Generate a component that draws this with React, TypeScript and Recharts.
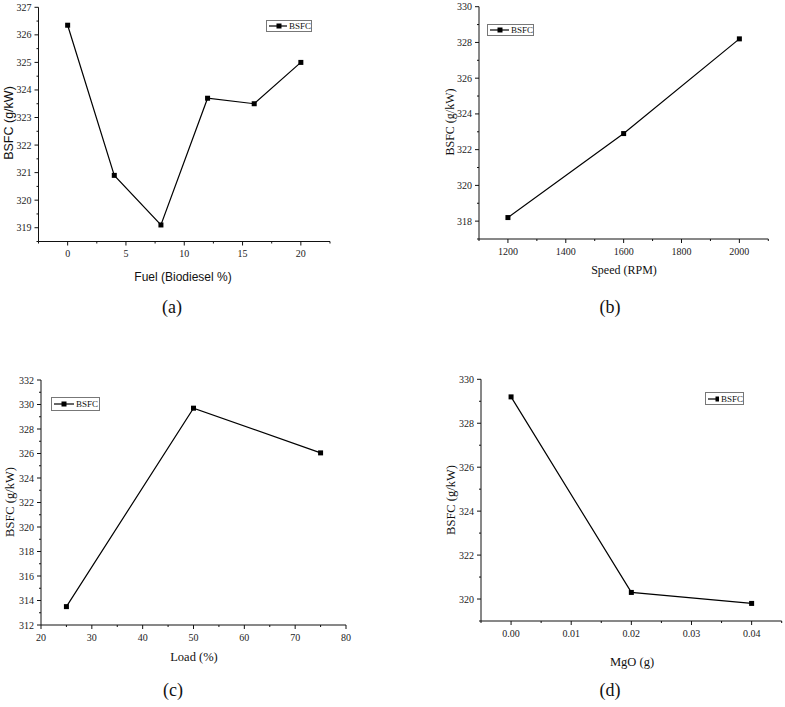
import { Line, LineChart, XAxis, YAxis } from 'recharts';

// (a) fuel blend
const FUEL_X = [0, 4, 8, 12, 16, 20];
const FUEL_BSFC = [326.35, 320.9, 319.1, 323.7, 323.5, 325.0];
const FUEL_X_MAJOR = [0, 5, 10, 15, 20];
const FUEL_X_MINOR = [-2.5, 2.5, 7.5, 12.5, 17.5, 22.5];
const FUEL_Y_MAJOR = [319, 320, 321, 322, 323, 324, 325, 326, 327];
const FUEL_Y_MINOR = [318.5, 319.5, 320.5, 321.5, 322.5, 323.5, 324.5, 325.5, 326.5];

// (b) speed
const SPEED_X = [1200, 1600, 2000];
const SPEED_BSFC = [318.2, 322.9, 328.2];
const SPEED_X_MAJOR = [1200, 1400, 1600, 1800, 2000];
const SPEED_X_MINOR = [1100, 1300, 1500, 1700, 1900, 2100];
const SPEED_Y_MAJOR = [318, 320, 322, 324, 326, 328, 330];
const SPEED_Y_MINOR = [317, 319, 321, 323, 325, 327, 329];

// (c) load
const LOAD_X = [25, 50, 75];
const LOAD_BSFC = [313.5, 329.7, 326.05];
const LOAD_X_MAJOR = [20, 30, 40, 50, 60, 70, 80];
const LOAD_X_MINOR = [25, 35, 45, 55, 65, 75];
const LOAD_Y_MAJOR = [312, 314, 316, 318, 320, 322, 324, 326, 328, 330, 332];
const LOAD_Y_MINOR = [313, 315, 317, 319, 321, 323, 325, 327, 329, 331];

// (d) MgO
const MGO_X = [0, 0.02, 0.04];
const MGO_BSFC = [329.2, 320.3, 319.8];
const MGO_X_MAJOR = [0, 0.01, 0.02, 0.03, 0.04];
const MGO_X_MINOR = [-0.005, 0.005, 0.015, 0.025, 0.035, 0.045];
const MGO_Y_MAJOR = [320, 322, 324, 326, 328, 330];
const MGO_Y_MINOR = [319, 321, 323, 325, 327, 329];

const SERIF = '"Liberation Serif", "Times New Roman", serif';
const SANS = '"Liberation Sans", Arial, sans-serif';
const INK = '#111';

const isMajor = (majors: number[], v: number) =>
  majors.some((m) => Math.abs(m - v) < 1e-9);

function xTick(majors: number[], fmt: (v: number) => string) {
  return (props: any) => {
    const { x, y, payload } = props;
    const major = isMajor(majors, payload.value);
    return (
      <g>
        <line x1={x} y1={y} x2={x} y2={y + (major ? 4 : 2)} stroke={INK} />
        {major && (
          <text
            x={x}
            y={y + 12}
            textAnchor="middle"
            dominantBaseline="central"
            fontFamily="Liberation Serif"
            fontSize={10}
            fill="#222"
          >
            {fmt(payload.value)}
          </text>
        )}
      </g>
    );
  };
}

function yTick(majors: number[]) {
  return (props: any) => {
    const { x, y, payload } = props;
    const major = isMajor(majors, payload.value);
    return (
      <g>
        <line x1={x} y1={y} x2={x - (major ? 4 : 2)} y2={y} stroke={INK} />
        {major && (
          <text
            x={x - 7}
            y={y}
            textAnchor="end"
            dominantBaseline="central"
            fontFamily="Liberation Serif"
            fontSize={10}
            fill="#222"
          >
            {payload.value}
          </text>
        )}
      </g>
    );
  };
}

const squareDot = (p: any) => (
  <rect key={p.index} x={p.cx - 2.5} y={p.cy - 2.5} width={5} height={5} fill="#000" />
);

interface PanelProps {
  xs: number[];
  ys: number[];
  xMajor: number[];
  xMinor: number[];
  yMajor: number[];
  yMinor: number[];
  xDomain: [number, number];
  yDomain: [number, number];
  xFmt?: (v: number) => string;
  left: number;
  top: number;
  width: number;
  height: number;
  yAxisWidth: number;
  margin: { top: number; right: number; bottom: number };
}

function Panel(p: PanelProps) {
  const data = p.xs.map((x, i) => ({ x, bsfc: p.ys[i] }));
  const xTicks = [...p.xMajor, ...p.xMinor].sort((a, b) => a - b);
  const yTicks = [...p.yMajor, ...p.yMinor].sort((a, b) => a - b);
  return (
    <div style={{ position: 'absolute', left: p.left, top: p.top }}>
      <LineChart
        width={p.width}
        height={p.height}
        data={data}
        margin={{ top: p.margin.top, right: p.margin.right, bottom: p.margin.bottom, left: 0 }}
        style={{ overflow: 'visible' }}
      >
        <XAxis
          dataKey="x"
          type="number"
          domain={p.xDomain}
          ticks={xTicks}
          interval={0}
          tickSize={0}
          tickMargin={0}
          tickLine={false}
          axisLine={{ stroke: INK }}
          tick={xTick(p.xMajor, p.xFmt ?? ((v) => String(v)))}
          height={30}
        />
        <YAxis
          type="number"
          domain={p.yDomain}
          ticks={yTicks}
          interval={0}
          tickSize={0}
          tickMargin={0}
          tickLine={false}
          axisLine={{ stroke: INK }}
          tick={yTick(p.yMajor)}
          width={p.yAxisWidth}
        />
        <Line
          dataKey="bsfc"
          stroke="#000"
          strokeWidth={1.2}
          dot={squareDot}
          activeDot={false}
          isAnimationActive={false}
        />
      </LineChart>
    </div>
  );
}

function Title({
  text,
  x,
  y,
  size,
  font,
  rotate,
}: {
  text: string;
  x: number;
  y: number;
  size: number;
  font: string;
  rotate?: boolean;
}) {
  return (
    <div
      style={{
        position: 'absolute',
        left: x,
        top: y,
        transform: `translate(-50%, -50%)${rotate ? ' rotate(-90deg)' : ''}`,
        fontFamily: font,
        fontSize: size,
        lineHeight: 1,
        whiteSpace: 'nowrap',
        color: '#111',
      }}
    >
      {text}
    </div>
  );
}

function LegendBox({ x, y, w, h }: { x: number; y: number; w: number; h: number }) {
  return (
    <div
      style={{
        position: 'absolute',
        left: x,
        top: y,
        width: w,
        height: h,
        boxSizing: 'border-box',
        border: '1px solid #777',
        display: 'flex',
        alignItems: 'center',
        paddingLeft: 2,
      }}
    >
      <svg width={20} height={8} style={{ display: 'block' }}>
        <line x1={0} y1={4} x2={20} y2={4} stroke="#000" strokeWidth={1.2} />
        <rect x={7.5} y={1.5} width={5} height={5} fill="#000" />
      </svg>
      <span style={{ fontFamily: SERIF, fontSize: 9, marginLeft: 2, color: '#111' }}>BSFC</span>
    </div>
  );
}

export default function App() {
  return (
    <div
      style={{
        position: 'absolute',
        left: 0,
        top: 0,
        width: 785,
        height: 707,
        background: '#fff',
        overflow: 'hidden',
      }}
    >
      <Panel
        xs={FUEL_X}
        ys={FUEL_BSFC}
        xMajor={FUEL_X_MAJOR}
        xMinor={FUEL_X_MINOR}
        yMajor={FUEL_Y_MAJOR}
        yMinor={FUEL_Y_MINOR}
        xDomain={[-2.5, 22.5]}
        yDomain={[318.5, 327]}
        left={0}
        top={0}
        width={360}
        height={300}
        yAxisWidth={38.5}
        margin={{ top: 7.3, right: 30, bottom: 28.5 }}
      />
      <Panel
        xs={SPEED_X}
        ys={SPEED_BSFC}
        xMajor={SPEED_X_MAJOR}
        xMinor={SPEED_X_MINOR}
        yMajor={SPEED_Y_MAJOR}
        yMinor={SPEED_Y_MINOR}
        xDomain={[1100, 2100]}
        yDomain={[317, 330]}
        left={400}
        top={0}
        width={385}
        height={300}
        yAxisWidth={79}
        margin={{ top: 6.7, right: 16.7, bottom: 31 }}
      />
      <Panel
        xs={LOAD_X}
        ys={LOAD_BSFC}
        xMajor={LOAD_X_MAJOR}
        xMinor={LOAD_X_MINOR}
        yMajor={LOAD_Y_MAJOR}
        yMinor={LOAD_Y_MINOR}
        xDomain={[20, 80]}
        yDomain={[312, 332]}
        left={0}
        top={340}
        width={360}
        height={320}
        yAxisWidth={41}
        margin={{ top: 40, right: 14, bottom: 5 }}
      />
      <Panel
        xs={MGO_X}
        ys={MGO_BSFC}
        xMajor={MGO_X_MAJOR}
        xMinor={MGO_X_MINOR}
        yMajor={MGO_Y_MAJOR}
        yMinor={MGO_Y_MINOR}
        xDomain={[-0.005, 0.045]}
        yDomain={[319, 330]}
        xFmt={(v) => v.toFixed(2)}
        left={400}
        top={340}
        width={385}
        height={320}
        yAxisWidth={81}
        margin={{ top: 39.3, right: 3.3, bottom: 9 }}
      />

      <Title text="BSFC (g/kW)" x={9} y={123} size={12.5} font={SANS} rotate />
      <Title text="Fuel (Biodiesel %)" x={183} y={277} size={12} font={SANS} />
      <Title text="BSFC (g/kW)" x={450} y={122} size={12} font={SERIF} rotate />
      <Title text="Speed (RPM)" x={624} y={270} size={12} font={SERIF} />
      <Title text="BSFC (g/kW)" x={10} y={502} size={12.5} font={SERIF} rotate />
      <Title text="Load (%)" x={194} y={657} size={12.5} font={SERIF} />
      <Title text="BSFC (g/kW)" x={451} y={500} size={12.5} font={SERIF} rotate />
      <Title text="MgO (g)" x={632} y={662} size={12.5} font={SERIF} />

      <Title text="(a)" x={172} y={307} size={18} font={SERIF} />
      <Title text="(b)" x={610} y={307} size={18} font={SERIF} />
      <Title text="(c)" x={173} y={690} size={18} font={SERIF} />
      <Title text="(d)" x={610} y={690} size={18} font={SERIF} />

      <LegendBox x={266} y={20} w={46} h={12} />
      <LegendBox x={487} y={24} w={47} h={12} />
      <LegendBox x={51} y={397} w={49} h={14} />
      <LegendBox x={705} y={392} w={39} h={13} />
    </div>
  );
}
